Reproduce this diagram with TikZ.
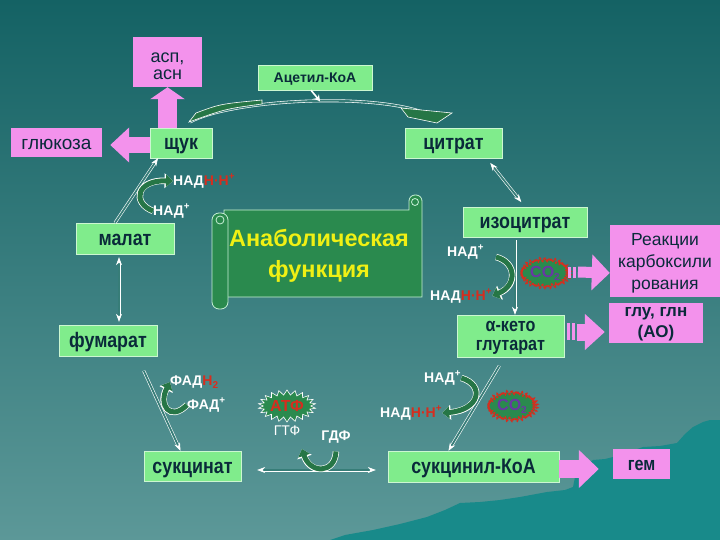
\documentclass[tikz,border=0pt]{standalone}
\usepackage{fontspec}
\setmainfont{Liberation Sans}
\newfontfamily\boxfont[FakeStretch=0.85]{Liberation Sans}
\usetikzlibrary{arrows.meta, shapes.symbols, calc}

\definecolor{bgtop}{RGB}{20,98,100}
\definecolor{bgbot}{RGB}{92,152,152}
\definecolor{mount}{RGB}{24,138,138}
\definecolor{pinkc}{RGB}{243,146,236}
\definecolor{greenc}{RGB}{128,236,140}
\definecolor{boxtxt}{RGB}{10,42,58}
\definecolor{scrollg}{RGB}{42,138,78}
\definecolor{scrolll}{RGB}{200,240,215}
\definecolor{cofg}{RGB}{38,118,70}
\definecolor{yel}{RGB}{240,240,20}
\definecolor{redc}{RGB}{215,45,30}
\definecolor{co2txt}{RGB}{105,55,165}
\definecolor{lineinner}{RGB}{55,125,120}

\begin{document}
\begin{tikzpicture}[x=1pt, y=-1pt,
  gbox/.style={fill=greenc, draw=white!60!greenc, line width=0.4pt, text=boxtxt,
    font=\boxfont\bfseries\fontsize{21}{21}\selectfont, inner sep=0pt, text height=14pt, text depth=0pt},
  pbox/.style={fill=pinkc, text=boxtxt, inner sep=0pt, text height=14pt, text depth=0pt,
    font=\fontsize{19}{23}\selectfont},
  dline/.style={draw=white, line width=0.6pt, double=lineinner, double distance=1.8pt},
  tipS/.style={-{Stealth[length=8pt,width=6pt]}},
  tipSS/.style={{Stealth[length=8pt,width=6pt]}-{Stealth[length=8pt,width=6pt]}},
  cofar/.style={draw=cofg, line width=5pt, -{Triangle[length=7pt,width=12pt]},
    preaction={draw=white, line width=6.4pt, -{Triangle[length=8.5pt,width=14.5pt]}}},
  coftxt/.style={text=white, font=\bfseries\fontsize{14}{14}\selectfont, inner sep=0pt, anchor=west},
  co2star/.style={starburst, starburst points=30, starburst point height=3pt, random starburst=0,
    fill=scrollg, draw=redc, line width=2pt, dash pattern=on 2pt off 1.2pt,
    minimum width=50pt, minimum height=30pt, inner sep=0pt},
  atpstar/.style={starburst, starburst points=22, starburst point height=5pt, random starburst=0,
    fill=scrollg, draw=white, line width=0.6pt, minimum width=52pt, minimum height=32pt, inner sep=0pt},
  scrollst/.style={fill=scrollg, draw=scrolll, line width=0.8pt},
]
\useasboundingbox (0,0) rectangle (720,540);
\shade[top color=bgtop, bottom color=bgbot] (0,0) rectangle (720,540);
% mountains
\fill[mount] (330,540) -- (345,535) -- (373,530) -- (400,524) -- (427,517) -- (445,510) -- (460,503)
  -- (480,502) -- (500,500) -- (520,497) -- (547,492) -- (565,490) -- (573,487) -- (576,472)
  -- (585,466) -- (593,460) -- (605,459) -- (613,457) -- (628,452) -- (643,447) -- (660,446)
  -- (677,443) -- (685,434) -- (693,427) -- (703,422) -- (710,420) -- (720,420) -- (720,540) -- cycle;

% scroll
\filldraw[scrollst] (224,210) -- (409,210) [rounded corners=6pt] -- (409,195) -- (422,195) [sharp corners] -- (422,297) -- (224,297) -- cycle;
\draw[scrolll, line width=0.8pt] (415,202) circle[radius=3.5pt];
\filldraw[scrollst, rounded corners=7pt] (212,213) rectangle (228,309);
\draw[scrolll, line width=0.8pt] (220,220) circle[radius=4pt];
\node[text=yel, font=\bfseries\fontsize{23.5}{31}\selectfont, align=center, inner sep=0pt,
  text height=46pt, text depth=0pt] (anab) at (319,254) {Анаболическая\\функция};

% boxes
\node[pbox, minimum width=69pt, minimum height=50pt, font=\fontsize{18}{17}\selectfont,
  align=center, text height=36pt] (asp) at (167.5,62) {асп,\\асн};
\node[pbox, minimum width=91pt, minimum height=29pt] (gluc) at (56.5,142.5) {глюкоза};
\node[gbox, minimum width=62pt, minimum height=30pt] (shuk) at (181,143) {щук};
\node[gbox, minimum width=114pt, minimum height=25pt, font=\bfseries\fontsize{14}{14}\selectfont,
  text height=11pt] (acet) at (315,77.5) {Ацетил-КоА};
\node[gbox, minimum width=97pt, minimum height=30pt] (cit) at (453.5,143) {цитрат};
\node[gbox, minimum width=124pt, minimum height=30pt] (izo) at (525,222) {изоцитрат};
\node[pbox, minimum width=110pt, minimum height=72pt, font=\fontsize{17.5}{22}\selectfont,
  align=center, text height=56pt] (reak) at (665,261) {Реакции\\карбоксили\\рования};
\node[pbox, minimum width=94pt, minimum height=40pt, font=\bfseries\fontsize{17}{21}\selectfont,
  align=center, text height=28pt] (glu) at (656,323) {глу, глн\\(АО)};
\node[gbox, minimum width=107pt, minimum height=42pt, font=\boxfont\bfseries\fontsize{19}{19}\selectfont,
  align=center, text height=28pt] (akg) at (510.5,336) {α-кето\\глутарат};
\node[gbox, minimum width=98pt, minimum height=31pt] (mal) at (125,238.5) {малат};
\node[gbox, minimum width=98pt, minimum height=31pt] (fum) at (108,340.5) {фумарат};
\node[gbox, minimum width=97pt, minimum height=30pt] (succ) at (192.5,466) {сукцинат};
\node[gbox, minimum width=171pt, minimum height=31pt] (sukcoa) at (473.5,466.5) {сукцинил-КоА};
\node[pbox, minimum width=57pt, minimum height=30pt, font=\boxfont\bfseries\fontsize{19}{19}\selectfont,
  text height=12pt] (gem) at (641.5,464) {гем};

% starbursts
\node[co2star] (co2a) at (545,273) {\color{co2txt}\bfseries\fontsize{16}{16}\selectfont CO\raisebox{-0.35ex}{\fontsize{10}{10}\selectfont 2}};
\node[co2star] (co2b) at (512,406) {\color{co2txt}\bfseries\fontsize{16}{16}\selectfont CO\raisebox{-0.35ex}{\fontsize{10}{10}\selectfont 2}};
\node[atpstar] (atp) at (287,406) {\color{redc}\bfseries\fontsize{16}{16}\selectfont АТФ};

% pink block arrows
\draw[pinkc, line width=19pt, -{Triangle[length=12pt,width=34pt]}] (asp.south |- shuk.north) -- (asp.south);
\draw[pinkc, line width=16pt, -{Triangle[length=19pt,width=34pt]}, shorten >=8pt] ([yshift=-2pt]shuk.west) -- ([yshift=-2pt]shuk.west -| gluc.east);
\fill[pinkc] (568,267) rectangle (571,278);
\fill[pinkc] (573,267) rectangle (576,278);
\draw[pinkc, line width=11pt, -{Triangle[length=18pt,width=35pt]}] (578,272) -- (co2a.east -| reak.west);
\fill[pinkc] (567,323) rectangle (570,340);
\fill[pinkc] (572,323) rectangle (575,340);
\draw[pinkc, line width=17pt, -{Triangle[length=20pt,width=35pt]}, shorten >=4pt] (577,332) -- (glu.west |- 577,332);
\draw[pinkc, line width=18pt, -{Triangle[length=20pt,width=37pt]}, shorten >=14pt] ([yshift=-2.5pt]sukcoa.east) -- ([yshift=-2.5pt]sukcoa.east -| gem.west);

% top arc shuk -> citrate
\draw[dline] (190,122) .. controls (230,100) and (370,92) .. (425,113);
\filldraw[fill=cofg, draw=white, line width=0.6pt] (189,122) -- (196,113) .. controls (220,104) .. (262,100) -- (262,104) .. controls (225,109) .. (189,122) -- cycle;
\filldraw[fill=cofg, draw=white, line width=0.6pt] (401,108) -- (452,113) -- (437,123) -- (408,117) -- cycle;
\draw[white, line width=1.6pt, -{Stealth[length=6pt,width=7pt]}] ([xshift=-4pt]acet.south) -- ++(9,11);

% cycle connectors
\draw[dline, tipSS, shorten <=6pt, shorten >=6pt] ([xshift=33pt]cit.south) -- (izo.north);
\draw[dline, tipS, shorten <=3pt] ([xshift=-10pt]izo.south) -- ([xshift=-10pt]izo.south |- akg.north);
\draw[dline, tipS, shorten <=10pt] ([xshift=-6pt]akg.south) -- ([xshift=-25pt]sukcoa.north);
\draw[dline, tipSS, shorten <=12pt, shorten >=16pt] ([yshift=-3.5pt]sukcoa.west) -- ([yshift=-3.5pt]sukcoa.west -| succ.east);
\draw[dline, tipS, shorten <=16pt] ([xshift=29pt]fum.south) -- ([xshift=-12pt]succ.north);
\draw[dline, tipSS, shorten <=3pt, shorten >=3pt] ([xshift=-6pt]mal.south) -- ([xshift=-6pt]mal.south |- fum.north);
\draw[dline, tipS] ([xshift=-10pt]mal.north) -- ([xshift=-23pt]shuk.south);

% cofactors: malate -> OAA
\node[coftxt] (nad1) at (153,211) {НАД\textsuperscript{+}};
\node[coftxt] (nadh1) at (173,181) {НАД\textcolor{redc}{Н·Н\textsuperscript{+}}};
\draw[cofar] (nad1.west) .. controls (132,203) and (136,180) .. (nadh1.west);

% isocitrate -> aKG
\node[coftxt] (nad2) at (447,252) {НАД\textsuperscript{+}};
\node[coftxt] (nadh2) at (430,296) {НАД\textcolor{redc}{Н·Н\textsuperscript{+}}};
\draw[cofar] (496,257) .. controls (516,262) and (518,285) .. (nadh2.east);

% aKG -> succinyl-CoA
\node[coftxt] (nad3) at (424,378) {НАД\textsuperscript{+}};
\node[coftxt] (nadh3) at (380,413) {НАД\textcolor{redc}{Н·Н\textsuperscript{+}}};
\draw[cofar] (nad3.east) .. controls (485,385) and (480,410) .. (nadh3.east);

% fumarate -> succinate
\node[coftxt] (fadh) at (170,382) {ФАД\textcolor{redc}{Н\raisebox{-0.4ex}{\fontsize{10}{10}\selectfont 2}}};
\node[coftxt] (fad) at (187,405) {ФАД\textsuperscript{+}};
\draw[cofar] (fad.west) .. controls (170,422) and (158,405) .. (fadh.west);

% GDP -> GTP
\node[text=white, font=\fontsize{14}{14}\selectfont, inner sep=0pt] (gtp) at (287,431) {ГТФ};
\node[text=white, font=\bfseries\fontsize{14}{14}\selectfont, inner sep=0pt] (gdp) at (336,437) {ГДФ};
\draw[cofar] ([yshift=-8pt]gdp.south) .. controls (335,474) and (310,474) .. (302,449);
\end{tikzpicture}
\end{document}
